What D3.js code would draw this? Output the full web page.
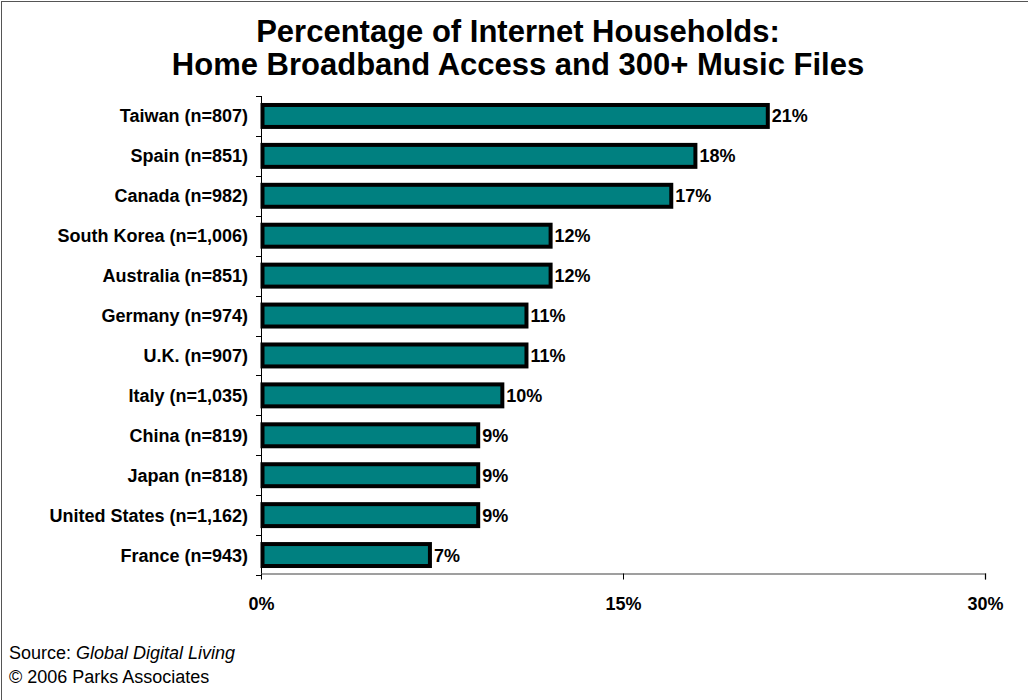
<!DOCTYPE html>
<html>
<head>
<meta charset="utf-8">
<script src="https://cdn.jsdelivr.net/npm/d3@7"></script>
<style>
  html, body { margin: 0; padding: 0; background: #fff; }
  svg { display: block; font-family: Arial, "Liberation Sans", sans-serif; }
</style>
</head>
<body>
<svg id="chart" width="1028" height="700"></svg>
<script>
// Countries with sample sizes, top to bottom
const countries = [
  "Taiwan (n=807)", "Spain (n=851)", "Canada (n=982)", "South Korea (n=1,006)",
  "Australia (n=851)", "Germany (n=974)", "U.K. (n=907)", "Italy (n=1,035)",
  "China (n=819)", "Japan (n=818)", "United States (n=1,162)", "France (n=943)"
];
// Share of internet households (%)
const shares = [21, 18, 17, 12, 12, 11, 11, 10, 9, 9, 9, 7];
const xTicks = [0, 15, 30];
const titleLines = ["Percentage of Internet Households:", "Home Broadband Access and 300+ Music Files"];

(function () {
const svg = d3.select("#chart");
const W = 1028, H = 700;
const plotL = 261, plotR = 985, plotT = 96, plotB = 575;
const FONT = "Arial, 'Liberation Sans', sans-serif";

// frame lines
svg.append("line").attr("x1", 1.5).attr("x2", 1.5).attr("y1", 1).attr("y2", H)
  .attr("stroke", "#555").attr("stroke-width", 1);
svg.append("line").attr("x1", 1).attr("x2", W).attr("y1", 1.5).attr("y2", 1.5)
  .attr("stroke", "#555").attr("stroke-width", 1);

// title
svg.append("g").selectAll("text").data(titleLines).join("text")
  .attr("x", 518).attr("y", (d, i) => 42 + i * 33)
  .attr("text-anchor", "middle").attr("font-size", 31).attr("font-weight", "bold")
  .attr("fill", "#000").text(d => d);

const x = d3.scaleLinear().domain([0, 30]).range([plotL, plotR]);
const y = d3.scaleBand().domain(countries).range([plotT, plotB]).paddingInner(0.45).paddingOuter(0.225);
const band = d3.scaleBand().domain(countries).range([plotT, plotB]);

// bars
svg.append("g").selectAll("rect").data(countries).join("rect")
  .attr("x", x(0) + 1.5)
  .attr("y", d => y(d))
  .attr("width", (d, i) => x(shares[i]) - x(0) - 1.5)
  .attr("height", y.bandwidth())
  .attr("fill", "#008080").attr("stroke", "#000").attr("stroke-width", 4);

// y axis with ticks at band boundaries
const yAxis = svg.append("g");
yAxis.append("line").attr("x1", plotL + 0.5).attr("x2", plotL + 0.5).attr("y1", plotT).attr("y2", plotB)
  .attr("stroke", "#000").attr("stroke-width", 1);
const bounds = countries.map(d => band(d)).concat([plotB]);
yAxis.selectAll(".tk").data(bounds).join("line")
  .attr("x1", plotL - 5).attr("x2", plotL + 0.5)
  .attr("y1", d => Math.round(d) + 0.5).attr("y2", d => Math.round(d) + 0.5)
  .attr("stroke", "#000").attr("stroke-width", 1);

// category labels
svg.append("g").selectAll("text").data(countries).join("text")
  .attr("x", 248).attr("y", d => band(d) + band.bandwidth() / 2 + 6.5)
  .attr("text-anchor", "end").attr("font-size", 18).attr("font-weight", "bold")
  .attr("fill", "#000").text(d => d);

// value labels
svg.append("g").selectAll("text").data(countries).join("text")
  .attr("x", (d, i) => x(shares[i]) + 4).attr("y", d => band(d) + band.bandwidth() / 2 + 6.5)
  .attr("font-size", 18).attr("font-weight", "bold").attr("fill", "#000")
  .text((d, i) => shares[i] + "%");

// x axis
const xAxis = svg.append("g").attr("transform", `translate(0,${plotB - 1.5})`)
  .call(d3.axisBottom(x).tickValues(xTicks).tickSize(6).tickFormat(d => d + "%"));
xAxis.select(".domain").attr("d", `M${plotL},0.5H${plotR + 0.5}V6`).attr("stroke", "#808080").attr("stroke-width", 1.5);
xAxis.selectAll(".tick line").attr("stroke", "#000");
xAxis.selectAll(".tick text").attr("dy", 0).attr("y", 36)
  .attr("font-size", 18).attr("font-weight", "bold").attr("font-family", FONT).attr("fill", "#000");

// source notes
const src = svg.append("text").attr("x", 9).attr("y", 659).attr("font-size", 18).attr("fill", "#000");
src.append("tspan").text("Source: ");
src.append("tspan").attr("font-style", "italic").text("Global Digital Living");
svg.append("text").attr("x", 9).attr("y", 683).attr("font-size", 18).attr("fill", "#000")
  .text("© 2006 Parks Associates");
})();
</script>
</body>
</html>
